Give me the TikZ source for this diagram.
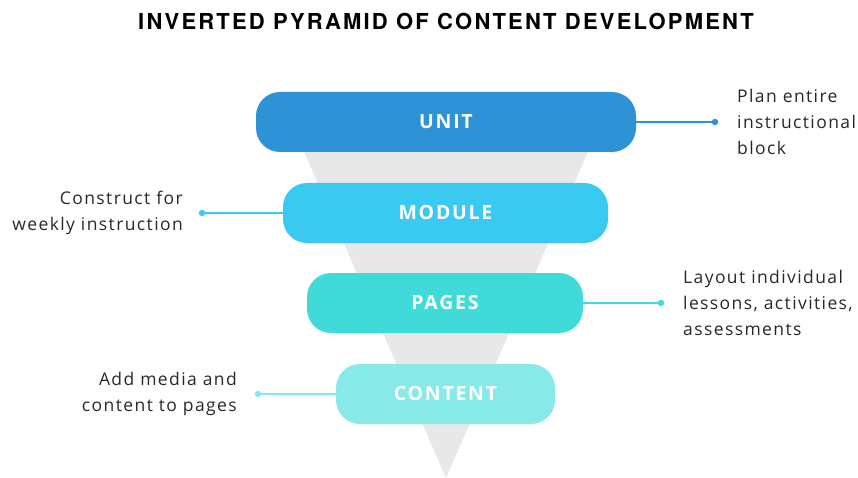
\documentclass[tikz,border=0pt]{standalone}
\usepackage{fontspec}
\setmainfont{Open Sans}
\newfontfamily\titlefont[LetterSpace=10]{TeX Gyre Heros}
\usepackage{tikz}
\usetikzlibrary{positioning}
\definecolor{unitcol}{RGB}{46,146,214}
\definecolor{modcol}{RGB}{58,201,240}
\definecolor{pagecol}{RGB}{64,219,216}
\definecolor{contcol}{RGB}{136,234,232}
\definecolor{funnel}{RGB}{232,232,232}
\definecolor{note}{RGB}{40,40,40}
\tikzset{
	pill/.style={rounded corners=24pt,minimum height=60pt,inner sep=0pt,text=white,
		font=\addfontfeatures{LetterSpace=9}\fontsize{19.5}{19.5}\selectfont\bfseries},
	dot/.style={circle,inner sep=0pt,minimum size=6.5pt},
	lead/.style={line width=1.5pt},
	notes/.style={inner sep=0pt,text=note,font=\addfontfeatures{LetterSpace=8}\fontsize{17.5}{26}\selectfont}
}

\begin{document}
\begin{tikzpicture}[x=1pt,y=-1pt]
	\useasboundingbox (0,0) rectangle (858,478);
	% funnel behind the bars
	\fill[funnel] (291,122) -- (601,122) -- (446,478) -- cycle;
	\node[text=black,font=\titlefont\bfseries\fontsize{22}{22}\selectfont] (title) at (446,21.5) {INVERTED PYRAMID OF CONTENT DEVELOPMENT};
	
	\node[pill,fill=unitcol,minimum width=380pt] (unit) at (446,122) {UNIT};
	\node[pill,fill=modcol,minimum width=325pt] (module) at (445.5,213) {MODULE};
	\node[pill,fill=pagecol,minimum width=276pt] (pages) at (445,303) {PAGES};
	\node[pill,fill=contcol,minimum width=219pt] (content) at (445.5,394) {CONTENT};
	
	\node[dot,fill=unitcol] (d1) at (715,122) {};
	\node[dot,fill=modcol] (d2) at (202,213) {};
	\node[dot,fill=pagecol] (d3) at (661,303) {};
	\node[dot,fill=contcol] (d4) at (258,394) {};
	\draw[lead,unitcol] (unit.east) -- (d1);
	\draw[lead,modcol] (module.west) -- (d2);
	\draw[lead,pagecol] (pages.east) -- (d3);
	\draw[lead,contcol] (content.west) -- (d4);
	
	\node[notes,align=left,anchor=west] (t1) at (737,122) {Plan entire\\instructional\\block};
	\node[notes,align=right,anchor=east] (t2) at (183,213) {Construct for\\weekly instruction};
	\node[notes,align=left,anchor=west] (t3) at (683,303) {Layout individual\\lessons, activities,\\assessments};
	\node[notes,align=right,anchor=east] (t4) at (237,394) {Add media and\\content to pages};
\end{tikzpicture}
\end{document}
